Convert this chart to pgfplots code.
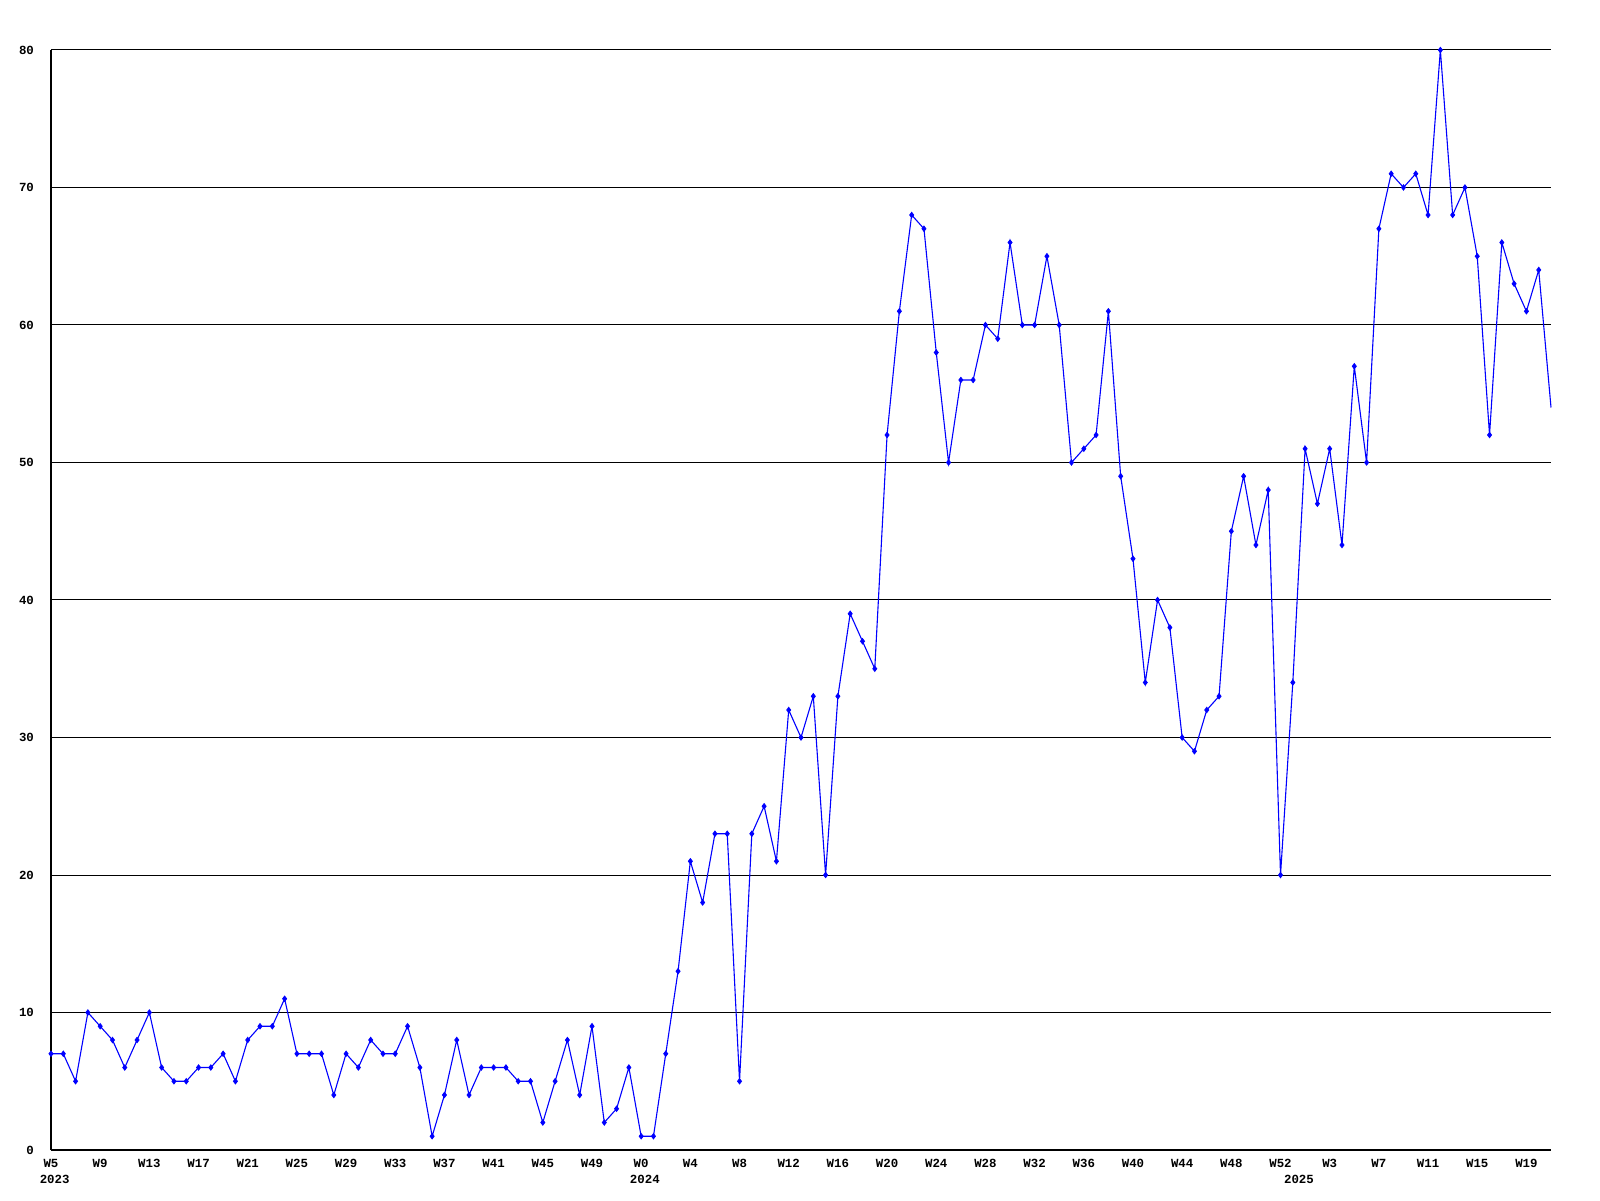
\documentclass[border=0pt]{standalone}
\usepackage{fontspec}
\setmainfont{Liberation Mono}
\usepackage{pgfplots}
\pgfplotsset{compat=1.18}
\usepackage{pgfplotstable}

\pgfplotstableread{
y
7
7
5
10
9
8
6
8
10
6
5
5
6
6
7
5
8
9
9
11
7
7
7
4
7
6
8
7
7
9
6
1
4
8
4
6
6
6
5
5
2
5
8
4
9
2
3
6
1
1
7
13
21
18
23
23
5
23
25
21
32
30
33
20
33
39
37
35
52
61
68
67
58
50
56
56
60
59
66
60
60
65
60
50
51
52
61
49
43
34
40
38
30
29
32
33
45
49
44
48
20
34
51
47
51
44
57
50
67
71
70
71
68
80
68
70
65
52
66
63
61
64
54
}\datatable

\begin{document}
\begin{tikzpicture}
\useasboundingbox (0,0) rectangle (800pt,600pt);
\begin{axis}[
  at={(25.5pt,25pt)}, anchor=south west,
  scale only axis, width=750pt, height=550pt,
  xmin=0, xmax=122, ymin=0, ymax=80,
  axis x line=bottom, axis y line=left,
  axis line style={-, black, line width=0.55pt},
  major tick length=0pt,
  ytick={0,10,...,80},
  ymajorgrids, grid style={black, line width=0.5pt},
  xtick={0,4,...,120},
  xticklabels={W5,W9,W13,W17,W21,W25,W29,W33,W37,W41,W45,W49,W0,W4,W8,W12,W16,W20,W24,W28,W32,W36,W40,W44,W48,W52,W3,W7,W11,W15,W19},
  tick label style={font=\bfseries\fontsize{6.2}{7}\selectfont},
  /pgf/number format/assume math mode=true,
  yticklabel style={xshift=-5pt},
  xticklabel style={anchor=north, yshift=-1pt},
  clip=false,
]
\addplot[blue, line width=0.55pt, no marks] table[x expr=\coordindex, y=y] {\datatable};
\addplot[blue, only marks, mark=diamond*, mark size=1.35pt, restrict x to domain=0:121] table[x expr=\coordindex, y=y] {\datatable};
\node[anchor=north, font=\bfseries\fontsize{6.2}{7}\selectfont] at (axis cs:0.3,0) [yshift=-9.2pt] {2023};
\node[anchor=north, font=\bfseries\fontsize{6.2}{7}\selectfont] at (axis cs:48.3,0) [yshift=-9.2pt] {2024};
\node[anchor=north, font=\bfseries\fontsize{6.2}{7}\selectfont] at (axis cs:101.5,0) [yshift=-9.2pt] {2025};
\end{axis}
\end{tikzpicture}
\end{document}
